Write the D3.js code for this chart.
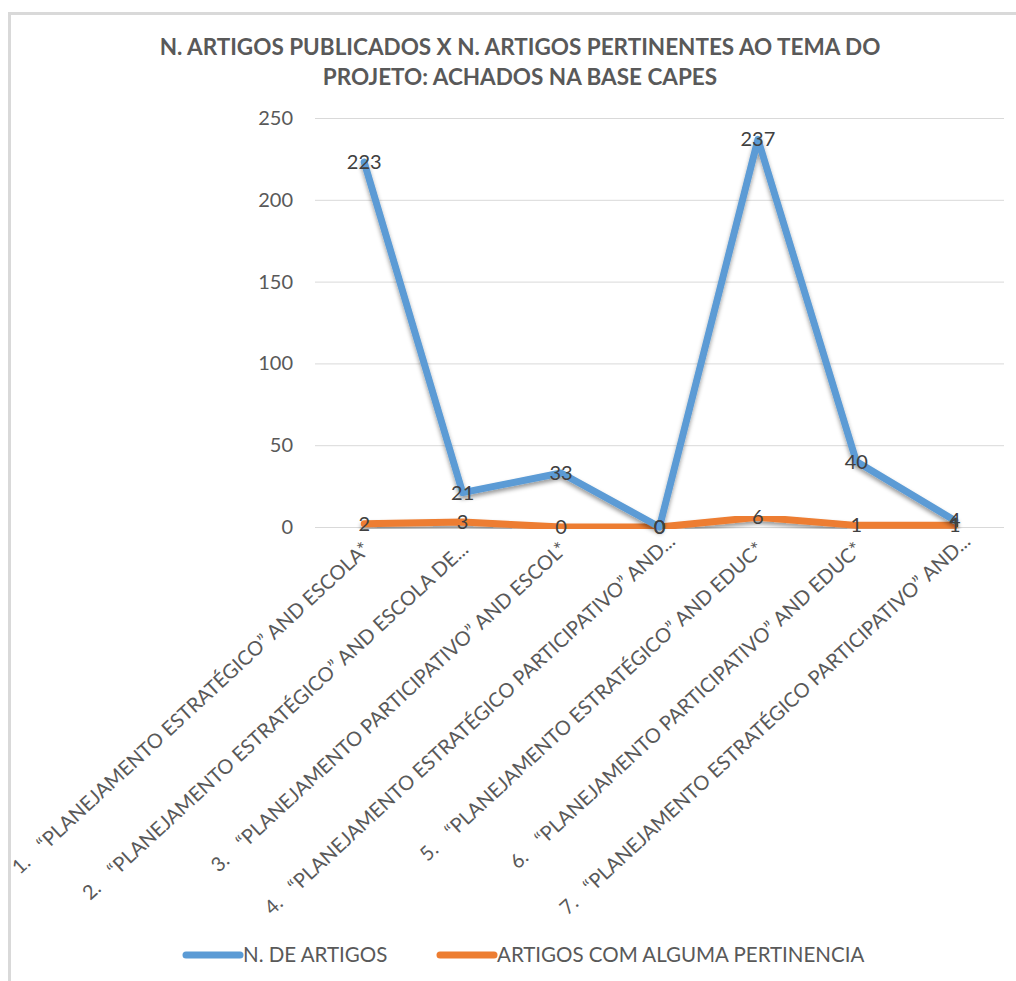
<!DOCTYPE html>
<html>
<head>
<meta charset="utf-8">
<script src="https://cdn.jsdelivr.net/npm/d3@7"></script>
<style>
  body { margin: 0; background: #fff; }
  svg text { font-family: Lato, "Open Sans", sans-serif; }
</style>
</head>
<body>
<div id="chart"></div>
<script>
// categories (search strings) and their list numbers
const catNums = ["1.", "2.", "3.", "4.", "5.", "6.", "7."]
const categories = [
  "\u201CPLANEJAMENTO ESTRATÉGICO\u201D AND ESCOLA*",
  "\u201CPLANEJAMENTO ESTRATÉGICO\u201D AND ESCOLA DE...",
  "\u201CPLANEJAMENTO PARTICIPATIVO\u201D AND ESCOL*",
  "\u201CPLANEJAMENTO ESTRATÉGICO PARTICIPATIVO\u201D AND...",
  "\u201CPLANEJAMENTO ESTRATÉGICO\u201D AND EDUC*",
  "\u201CPLANEJAMENTO PARTICIPATIVO\u201D AND EDUC*",
  "\u201CPLANEJAMENTO ESTRATÉGICO PARTICIPATIVO\u201D AND..."
]
const nArtigos = [223, 21, 33, 0, 237, 40, 4]
const pertinentes = [2, 3, 0, 0, 6, 1, 1]
const yTicks = [0, 50, 100, 150, 200, 250]
const seriesNames = ["N. DE ARTIGOS", "ARTIGOS COM ALGUMA PERTINENCIA"]
const titleLines = [
  "N. ARTIGOS PUBLICADOS X N. ARTIGOS PERTINENTES AO TEMA DO",
  "PROJETO: ACHADOS NA BASE CAPES"
]

const config = {
  width: 1016,
  height: 981,
  plot: {left: 315, right: 1004, top: 118, bottom: 527},
  colors: ["#5B9BD5", "#ED7D31"],
  grid: "#d9d9d9",
  textColor: "#595959",
  labelColor: "#404040",
  labelAngle: -42.7
}
const { width, height, plot, colors } = config

const svg = d3.select("#chart").append("svg")
  .attr("width", width)
  .attr("height", height)

// soft shadow under the lines
const defs = svg.append("defs")
defs.append("filter")
  .attr("id", "shadow")
  .attr("x", "-10%").attr("y", "-10%")
  .attr("width", "120%").attr("height", "130%")
  .append("feDropShadow")
  .attr("dx", 0).attr("dy", 3)
  .attr("stdDeviation", 2)
  .attr("flood-color", "#000")
  .attr("flood-opacity", 0.4)

// chart border (only top and left visible in the crop)
svg.append("path")
  .attr("d", `M9.5,${height} V13.5 H${width}`)
  .style("fill", "none")
  .style("stroke", "#d9d9d9")
  .style("stroke-width", 3)

// title
svg.selectAll(".title")
  .data(titleLines)
  .enter().append("text")
  .attr("class", "title")
  .attr("text-anchor", "middle")
  .attr("x", 520)
  .attr("y", (d, i) => 55 + i * 30)
  .text(d => d)
  .style("font-size", "22.5px")
  .style("font-weight", "bold")
  .style("fill", config.textColor)

const xScale = d3.scalePoint()
  .domain(d3.range(categories.length))
  .range([plot.left, plot.right])
  .padding(0.5)

const yScale = d3.scaleLinear()
  .domain([0, 250])
  .range([plot.bottom, plot.top])

// gridlines
svg.append("g")
  .selectAll("line")
  .data(yTicks)
  .enter().append("line")
  .attr("x1", plot.left)
  .attr("x2", plot.right)
  .attr("y1", d => yScale(d) + 0.5)
  .attr("y2", d => yScale(d) + 0.5)
  .style("stroke", config.grid)
  .style("stroke-width", 1)

// y axis labels
const yAxis = svg.append("g")
  .attr("transform", `translate(${plot.left - 22},0)`)
  .call(d3.axisLeft(yScale).tickValues(yTicks).tickSize(0).tickPadding(0))
yAxis.select(".domain").remove()
yAxis.selectAll("text")
  .style("font-size", "20px")
  .style("fill", config.textColor)

// x axis labels, rotated; the truncated ("...") ones sit a bit further up-right
const xLabels = svg.append("g")
  .selectAll("text")
  .data(categories)
  .enter().append("text")
  .attr("text-anchor", "end")
  .attr("transform", (d, i) => {
    const shift = d.endsWith("AND...") ? 10 : 0
    return `translate(${xScale(i) + 7 + shift},${plot.bottom + 24 - shift * 0.8}) rotate(${config.labelAngle})`
  })
  .style("font-size", "20px")
  .style("fill", config.textColor)
xLabels.append("tspan").text((d, i) => catNums[i])
xLabels.append("tspan").attr("dx", d => d.endsWith("AND...") ? 18 : 20).text(d => d)

// lines
const line = d3.line()
  .x((d, i) => xScale(i))
  .y(d => yScale(d))

const series = [nArtigos, pertinentes]

svg.append("g")
  .selectAll("path")
  .data(series.slice().reverse())
  .enter().append("path")
  .attr("d", d => line(d))
  .style("fill", "none")
  .style("stroke", (d, i) => colors[1 - i])
  .style("stroke-width", 7)
  .style("stroke-linejoin", "round")
  .style("stroke-linecap", "round")
  .attr("filter", "url(#shadow)")

// data labels centred on the points
series.forEach(values => {
  svg.append("g")
    .selectAll("text")
    .data(values)
    .enter().append("text")
    .attr("text-anchor", "middle")
    .attr("x", (d, i) => xScale(i))
    .attr("y", d => yScale(d) + 7)
    .text(d => d)
    .style("font-size", "20px")
    .style("fill", config.labelColor)
})

// legend
const legendX = [186, 440]
const legend = svg.append("g")
  .selectAll("g")
  .data(seriesNames)
  .enter().append("g")
  .attr("transform", (d, i) => `translate(${legendX[i]},955)`)
legend.append("line")
  .attr("x1", 0).attr("x2", 54)
  .style("stroke", (d, i) => colors[i])
  .style("stroke-width", 7)
  .style("stroke-linecap", "round")
legend.append("text")
  .attr("x", 57)
  .attr("y", 7)
  .text(d => d)
  .style("font-size", "20.5px")
  .style("fill", config.textColor)
</script>
</body>
</html>
